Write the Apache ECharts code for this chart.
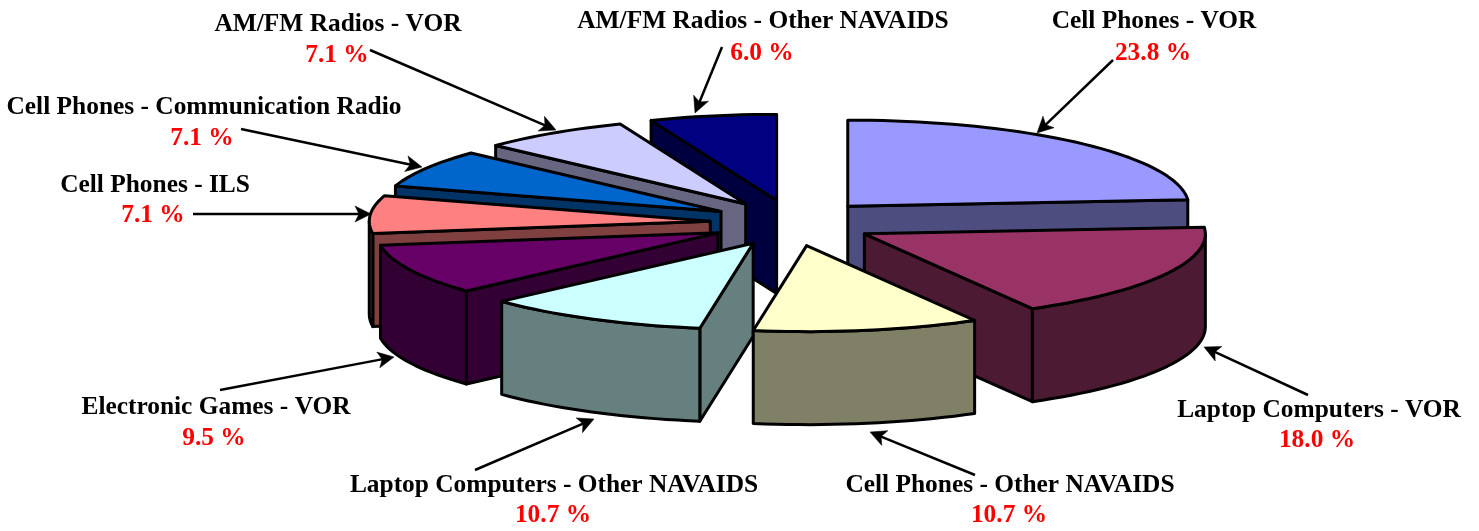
<!DOCTYPE html>
<html>
<head>
<meta charset="utf-8">
<script src="https://cdn.jsdelivr.net/npm/echarts@6/dist/echarts.min.js"></script>
<style>
html, body { margin: 0; padding: 0; background: #fff; }
#chart { width: 1479px; height: 531px; }
</style>
</head>
<body>
<div id="chart"></div>
<script>
// data, clockwise from 12 o'clock
const categories = [
    'Cell Phones - VOR',
    'Laptop Computers - VOR',
    'Cell Phones - Other NAVAIDS',
    'Laptop Computers - Other NAVAIDS',
    'Electronic Games - VOR',
    'Cell Phones - ILS',
    'Cell Phones - Communication Radio',
    'AM/FM Radios - VOR',
    'AM/FM Radios - Other NAVAIDS'
];
const percents = [23.8, 18.0, 10.7, 10.7, 9.5, 7.1, 7.1, 7.1, 6.0];

// styles and layout, same order as categories
const topColors = ['#9999FF', '#993366', '#FFFFCC', '#CCFFFF', '#660066', '#FF8080', '#0066CC', '#CCCCFF', '#000080'];
const nameAnchors = [[1154, 21], [1319, 410], [1010, 485], [554, 485], [216, 407], [155, 185], [204, 107], [338, 24], [763, 21]];
const valueAnchors = [[1153, 53], [1317, 440], [1009, 515], [553, 515], [214, 438], [153, 215], [202, 138], [337, 55], [762, 53]];
const arrowTails = [[1113, 60], [1308, 395], [975, 475], [475, 470], [220, 390], [193, 214], [241, 129], [370, 50], [722, 47]];
const arrowTips = [[1037, 133], [1204, 347], [870, 432], [594, 419], [394, 357], [371, 214], [422, 167], [556, 130], [695, 113]];

// pie geometry
const center = [792, 223];
const radiusX = 341;
const radiusY = 86;
const depth = 93;
const explodeX = 82;
const explodeY = 23;
const edgeWidth = 3;
const fontFamily = '"Liberation Serif", "Times New Roman", serif';

const total = percents.reduce((a, b) => a + b, 0);
let running = 0;
const slices = percents.map((v, i) => {
    const start = (running / total) * 360;
    running += v;
    return { index: i, start: start, end: (running / total) * 360 };
});

// back slices first, the ones nearest the viewer last
const drawOrder = slices
    .slice()
    .sort((a, b) => Math.abs((b.start + b.end) / 2 - 180) - Math.abs((a.start + a.end) / 2 - 180))
    .map((s) => s.index);

const rad = (d) => (d * Math.PI) / 180;

function dim(hex) {
    const n = parseInt(hex.slice(1), 16);
    const half = (c) => Math.round(c / 2);
    return 'rgb(' + half((n >> 16) & 255) + ',' + half((n >> 8) & 255) + ',' + half(n & 255) + ')';
}

function arcPoints(apex, from, to) {
    const pts = [];
    const steps = Math.max(2, Math.ceil((to - from) / 2));
    for (let k = 0; k <= steps; k++) {
        const a = rad(from + ((to - from) * k) / steps);
        pts.push([apex[0] + radiusX * Math.sin(a), apex[1] - radiusY * Math.cos(a)]);
    }
    return pts;
}

function face(points, fill) {
    return {
        type: 'polygon',
        shape: { points: points },
        style: { fill: fill, stroke: '#000', lineWidth: edgeWidth, lineJoin: 'round' }
    };
}

const drop = (p) => [p[0], p[1] + depth];

function renderSlice(params, api) {
    const s = slices[api.value(0)];
    const mid = rad((s.start + s.end) / 2);
    const apex = [center[0] + explodeX * Math.sin(mid), center[1] - explodeY * Math.cos(mid)];
    const side = dim(topColors[s.index]);
    const children = [];
    const rim = arcPoints(apex, s.start, s.end);

    // side walls cut along the radius, only if they face the viewer
    if (Math.sin(rad(s.start)) < -0.001) {
        const p = rim[0];
        children.push(face([apex, p, drop(p), drop(apex)], side));
    }
    if (Math.sin(rad(s.end)) > 0.001) {
        const p = rim[rim.length - 1];
        children.push(face([apex, p, drop(p), drop(apex)], side));
    }
    // outer wall, front half of the ellipse only
    const from = Math.max(s.start, 90);
    const to = Math.min(s.end, 270);
    if (to > from) {
        const arc = arcPoints(apex, from, to);
        children.push(face(arc.concat(arc.map(drop).reverse()), side));
    }
    children.push(face([apex].concat(rim), topColors[s.index]));
    return { type: 'group', children: children };
}

function arrowElements(tail, tip) {
    const dx = tip[0] - tail[0];
    const dy = tip[1] - tail[1];
    const len = Math.sqrt(dx * dx + dy * dy);
    const ux = dx / len;
    const uy = dy / len;
    const back = (d, w) => [tip[0] - ux * d - uy * w, tip[1] - uy * d + ux * w];
    return [
        {
            type: 'line',
            shape: { x1: tail[0], y1: tail[1], x2: back(10, 0)[0], y2: back(10, 0)[1] },
            style: { stroke: '#000', lineWidth: 2.5 }
        },
        {
            type: 'polygon',
            shape: { points: [tip, back(16, 8), back(12, 0), back(16, -8)] },
            style: { fill: '#000', stroke: '#000', lineWidth: 0.5 }
        }
    ];
}

function labelText(text, anchor, color) {
    return {
        type: 'text',
        x: anchor[0],
        y: anchor[1],
        style: {
            text: text,
            fill: color,
            font: 'bold 25.4px ' + fontFamily,
            align: 'center',
            verticalAlign: 'middle'
        }
    };
}

let overlays = [];
categories.forEach((name, i) => {
    overlays = overlays.concat(arrowElements(arrowTails[i], arrowTips[i]));
    overlays.push(labelText(name, nameAnchors[i], '#000'));
    overlays.push(labelText(percents[i].toFixed(1) + ' %', valueAnchors[i], '#FF0000'));
});

const chart = echarts.init(document.getElementById('chart'), null, { renderer: 'canvas' });
chart.setOption({
    backgroundColor: '#fff',
    animation: false,
    graphic: { elements: overlays },
    series: [
        {
            type: 'custom',
            coordinateSystem: 'none',
            silent: true,
            renderItem: renderSlice,
            data: drawOrder.map((i) => [i])
        }
    ]
});
</script>
</body>
</html>
